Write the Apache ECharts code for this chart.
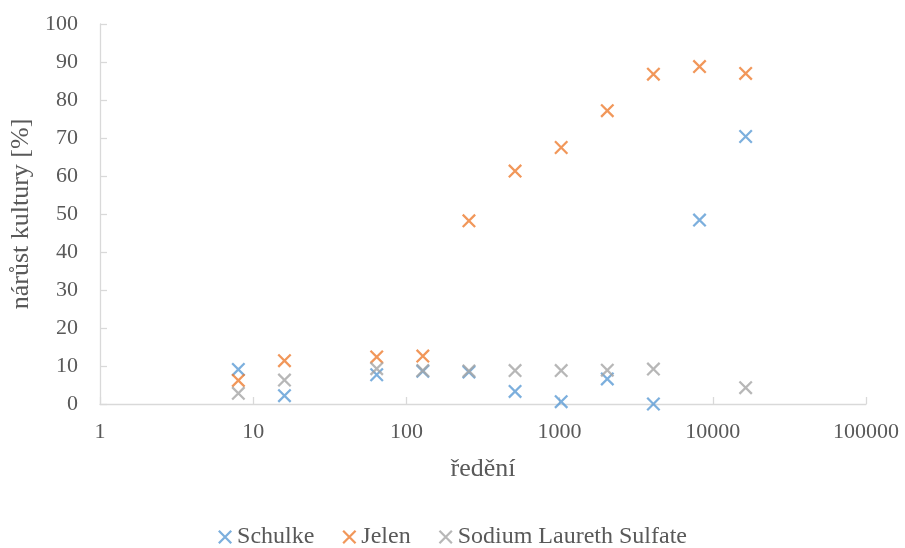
<!DOCTYPE html>
<html>
<head>
<meta charset="utf-8">
<script src="https://cdn.jsdelivr.net/npm/echarts@6/dist/echarts.min.js"></script>
<style>html,body{margin:0;padding:0;background:#fff}#c{width:905px;height:548px}</style>
</head>
<body>
<div id="c"></div>
<script>
var dilutions = [8, 16, 64, 128, 256, 512, 1024, 2048, 4096, 8192, 16384];
var schulke = [9.1, 2.2, 7.7, 8.6, 8.4, 3.3, 0.6, 6.6, 0.0, 48.4, 70.4];
var jelen = [6.2, 11.4, 12.4, 12.6, 48.2, 61.3, 67.5, 77.2, 86.8, 88.8, 87.0];
var slsX = [8, 16, 64, 128, 256, 512, 1024, 2048, 4096, 16384];
var sls = [2.8, 6.3, 9.3, 8.8, 8.7, 8.8, 8.8, 8.9, 9.2, 4.3];
var seriesNames = ['Schulke', 'Jelen', 'Sodium Laureth Sulfate'];
var colors = ['#5B9BD5', '#ED7D31', '#A5A5A5'];

var X = 'path://M0,1.6L1.6,0L14,12.4L12.4,14Z M12.4,0L14,1.6L1.6,14L0,12.4Z';
function pairs(xs, ys){ return xs.map(function(x,i){return [x, ys[i]];}); }
var font = '"Liberation Serif","Times New Roman",serif';
var fs = 22;

var chart = echarts.init(document.getElementById('c'));
chart.setOption({
  animation: false,
  color: colors,
  textStyle: {fontFamily: font},
  grid: {left: 100, right: 39, top: 24, bottom: 144, containLabel: false, outerBoundsMode: 'none'},
  xAxis: {
    type: 'log', logBase: 10, min: 1, max: 100000,
    name: 'ředění', nameLocation: 'middle', nameGap: 52,
    nameTextStyle: {fontFamily: font, fontSize: 26, color: '#595959'},
    axisLine: {show: true, lineStyle: {color: '#D9D9D9', width: 1.3}},
    axisTick: {show: true, inside: true, length: 7, lineStyle: {color: '#D9D9D9', width: 1.3}},
    minorTick: {show: false},
    splitLine: {show: false},
    axisLabel: {fontFamily: font, fontSize: fs, color: '#595959', margin: 17,
      formatter: function(v){ return String(Math.round(v)); }}
  },
  yAxis: {
    type: 'value', min: 0, max: 100, interval: 10,
    name: 'nárůst kultury [%]', nameLocation: 'middle', nameGap: 63,
    nameTextStyle: {fontFamily: font, fontSize: 26, color: '#595959'},
    axisLine: {show: true, lineStyle: {color: '#D9D9D9', width: 1.3}},
    axisTick: {show: true, inside: true, length: 7, lineStyle: {color: '#D9D9D9', width: 1.3}},
    splitLine: {show: false},
    axisLabel: {fontFamily: font, fontSize: fs, color: '#595959', margin: 22}
  },
  legend: {
    bottom: -6, left: 'center',
    itemWidth: 14, itemHeight: 14, itemGap: 28,
    textStyle: {fontFamily: font, fontSize: 24, color: '#595959'},
    data: seriesNames.map(function(n){return {name: n, icon: X};})
  },
  series: [
    {name: seriesNames[0], type: 'scatter', symbol: X, symbolSize: 14, data: pairs(dilutions, schulke)},
    {name: seriesNames[1], type: 'scatter', symbol: X, symbolSize: 14, data: pairs(dilutions, jelen)},
    {name: seriesNames[2], type: 'scatter', symbol: X, symbolSize: 14, data: pairs(slsX, sls)}
  ]
});
</script>
</body>
</html>
